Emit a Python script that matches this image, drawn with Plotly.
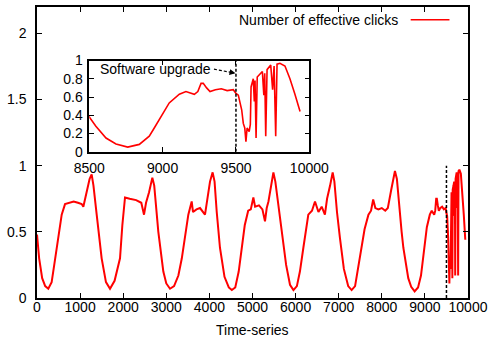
import plotly.graph_objects as go

# ---- data ----
time_index = [0, 50, 120, 190, 262, 340, 400, 457, 520, 573, 650, 750, 850, 950, 1037, 1075,
              1153, 1220, 1268, 1310, 1385, 1500, 1600, 1694, 1800, 1926, 1980, 2042, 2150,
              2300, 2420, 2483, 2530, 2600, 2676, 2720, 2815, 2931, 3000, 3086, 3180, 3280,
              3360, 3434, 3511, 3589, 3620, 3700, 3782, 3898, 3950, 4014, 4075, 4120, 4170,
              4245, 4350, 4450, 4520, 4600, 4680, 4750, 4820, 4900, 4960, 5020, 5060, 5150,
              5230, 5290, 5330, 5370, 5420, 5485, 5530, 5600, 5680, 5780, 5870, 5950, 6030,
              6100, 6180, 6240, 6295, 6380, 6450, 6530, 6605, 6680, 6730, 6800, 6860, 6900,
              6960, 7030, 7120, 7220, 7300, 7380, 7450, 7530, 7600, 7690, 7750, 7800, 7850,
              7920, 8000, 8080, 8140, 8220, 8305, 8350, 8400, 8460, 8500, 8545, 8614, 8682,
              8762, 8841, 8909, 8943, 8989, 9045, 9114, 9159, 9216, 9240, 9262, 9277, 9300,
              9323, 9360, 9400, 9440, 9482, 9500, 9516, 9539, 9550, 9560, 9568, 9576, 9590,
              9598, 9603, 9618, 9625, 9630, 9637, 9645, 9664, 9680, 9690, 9696, 9703, 9712,
              9737, 9750, 9760, 9771, 9780, 9800, 9834, 9868, 9902, 9937]
effective_clicks = [0.48, 0.30, 0.15, 0.09, 0.07, 0.12, 0.25, 0.38, 0.52, 0.63, 0.71, 0.72, 0.73,
                    0.72, 0.71, 0.69, 0.81, 0.90, 0.935, 0.85, 0.63, 0.30, 0.12, 0.07, 0.13,
                    0.30, 0.55, 0.76, 0.75, 0.74, 0.72, 0.63, 0.72, 0.80, 0.91, 0.85, 0.50,
                    0.20, 0.11, 0.07, 0.09, 0.17, 0.30, 0.45, 0.63, 0.73, 0.65, 0.67, 0.68,
                    0.63, 0.75, 0.88, 0.95, 0.88, 0.65, 0.38, 0.16, 0.08, 0.06, 0.08, 0.20,
                    0.38, 0.55, 0.66, 0.67, 0.76, 0.69, 0.70, 0.67, 0.58, 0.68, 0.73, 0.82,
                    0.95, 0.88, 0.70, 0.50, 0.25, 0.10, 0.06, 0.09, 0.20, 0.38, 0.52, 0.63,
                    0.66, 0.73, 0.65, 0.69, 0.63, 0.75, 0.85, 0.95, 0.88, 0.65, 0.45, 0.22,
                    0.09, 0.06, 0.09, 0.22, 0.38, 0.52, 0.63, 0.66, 0.745, 0.68, 0.67, 0.68,
                    0.66, 0.68, 0.82, 0.96, 0.90, 0.70, 0.50, 0.38, 0.28, 0.15, 0.085, 0.05,
                    0.08, 0.17, 0.26, 0.39, 0.535, 0.63, 0.66, 0.63, 0.66, 0.75, 0.75, 0.70,
                    0.66, 0.68, 0.69, 0.67, 0.68, 0.64, 0.62, 0.46, 0.31, 0.26, 0.11, 0.26,
                    0.22, 0.30, 0.71, 0.80, 0.55, 0.78, 0.15, 0.82, 0.85, 0.88, 0.62, 0.86,
                    0.17, 0.90, 0.95, 0.68, 0.94, 0.17, 0.96, 0.97, 0.94, 0.80, 0.63, 0.44]

main_x_ticks = [0, 1000, 2000, 3000, 4000, 5000, 6000, 7000, 8000, 9000, 10000]
main_x_labels = [str(v) for v in main_x_ticks]
main_y_ticks = [0, 0.5, 1, 1.5, 2]
main_y_labels = ["0", "0.5", "1", "1.5", "2"]
inset_x_ticks = [8500, 9000, 9500, 10000]
inset_x_labels = ["8500", "9000", "9500", "10000"]
inset_y_ticks = [0, 0.2, 0.4, 0.6, 0.8, 1]
inset_y_labels = ["0", "0.2", "0.4", "0.6", "0.8", "1"]
upgrade_time = 9500
series_name = "Number of effective clicks"
x_title = "Time-series"
upgrade_label = "Software upgrade"

FONT = "Liberation Sans, Arial, Helvetica, sans-serif"
tickfont = dict(family=FONT, size=14, color="black")

fig = go.Figure()
fig.add_trace(go.Scatter(x=time_index, y=effective_clicks, mode="lines", name=series_name,
                         line=dict(color="#ff0000", width=2), xaxis="x", yaxis="y",
                         showlegend=False))
fig.add_trace(go.Scatter(x=time_index, y=effective_clicks, mode="lines", name=series_name,
                         line=dict(color="#ff0000", width=1.6), xaxis="x2", yaxis="y2",
                         showlegend=False))

axis_common = dict(showline=True, linecolor="black", linewidth=1.5, mirror="ticks",
                   ticks="inside", ticklen=5, tickwidth=1.2, tickcolor="black",
                   showgrid=False, zeroline=False, tickfont=tickfont, automargin=False)

fig.update_layout(
    width=489, height=343,
    margin=dict(l=37, r=21, t=7, b=45),
    paper_bgcolor="white", plot_bgcolor="white",
    xaxis=dict(domain=[0, 1], range=[0, 10000], tickvals=main_x_ticks, ticktext=main_x_labels,
               ticklabelstandoff=-5, **axis_common),
    yaxis=dict(domain=[0, 1], range=[0, 2.2], tickvals=main_y_ticks, ticktext=main_y_labels,
               ticklabelstandoff=6, **axis_common),
    xaxis2=dict(domain=[0.1213, 0.6318], anchor="y2", range=[8500, 10000],
                tickvals=inset_x_ticks, ticktext=inset_x_labels, ticklabelstandoff=3,
                **axis_common),
    yaxis2=dict(domain=[0.5028, 0.816], anchor="x2", range=[0, 1], tickvals=inset_y_ticks,
                ticktext=inset_y_labels, ticklabelstandoff=2, **axis_common),
)

# x-axis title placed as text below the tick labels
fig.add_annotation(xref="paper", yref="paper", x=0.5, y=-0.111, text=x_title, showarrow=False,
                   xanchor="center", yanchor="middle",
                   font=dict(family=FONT, size=14, color="black"))

dash_line = dict(color="black", width=1.5, dash="3px,2px")
# upgrade markers in main plot and inset
fig.add_shape(type="line", xref="x", yref="y", x0=upgrade_time, x1=upgrade_time, y0=0, y1=1,
              line=dash_line)
fig.add_shape(type="line", xref="x2", yref="y2", x0=upgrade_time, x1=upgrade_time, y0=0, y1=1,
              line=dash_line)

# Software upgrade label with dashed arrow
fig.add_annotation(xref="x2", yref="y2", x=9343, y=0.905, text=upgrade_label, showarrow=False,
                   xanchor="right", yanchor="middle",
                   font=dict(family=FONT, size=14, color="black"))
fig.add_shape(type="line", xref="x2", yref="y2", x0=9350, y0=0.905, x1=9480, y1=0.866,
              line=dict(color="black", width=1.2, dash="3px,2px"))
fig.add_annotation(xref="x2", yref="y2", x=upgrade_time - 3, y=0.86, axref="x2", ayref="y2",
                   ax=9470, ay=0.869, text="", showarrow=True, arrowhead=2, arrowsize=1,
                   arrowwidth=1.2, arrowcolor="black")

# key (text right-aligned with sample line on its right, like the original)
fig.add_annotation(xref="paper", yref="paper", x=0.842, y=0.956, text=series_name,
                   showarrow=False, xanchor="right", yanchor="middle",
                   font=dict(family=FONT, size=14, color="black"))
fig.add_shape(type="line", xref="paper", yref="paper", x0=0.867, x1=0.957, y0=0.956, y1=0.956,
              line=dict(color="#ff0000", width=1.5))

fig.write_html("out.html", config={"displayModeBar": False},
               post_script="document.body.style.margin='0';document.body.style.padding='0';")
